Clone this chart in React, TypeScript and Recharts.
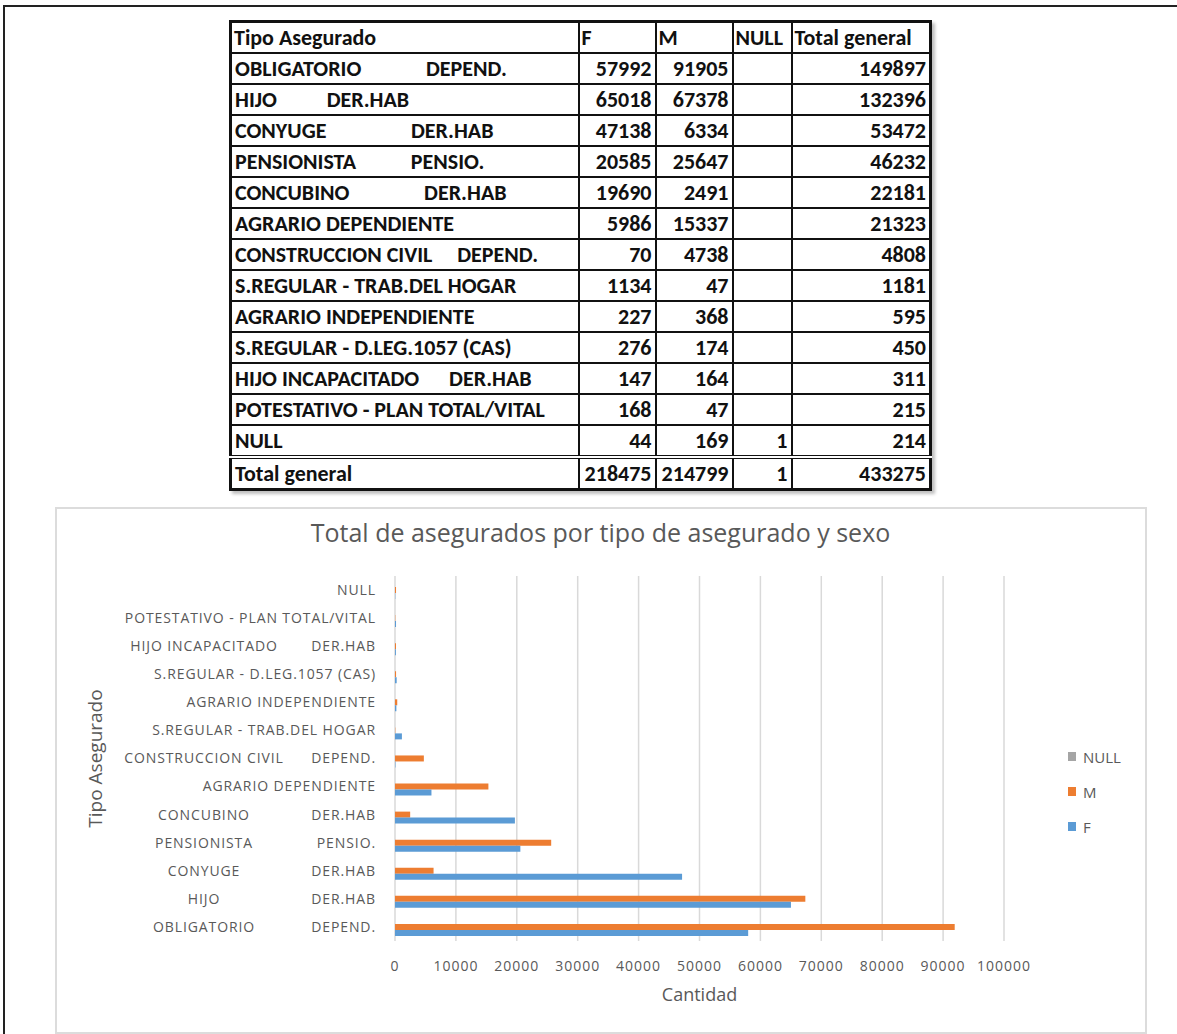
import React from "react";
import { BarChart, Bar, XAxis, YAxis, CartesianGrid } from "recharts";

// Tipo de asegurado, in table order (runs of spaces separate the two parts of a label)
const categories = [
  "OBLIGATORIO             DEPEND.",
  "HIJO          DER.HAB",
  "CONYUGE                 DER.HAB",
  "PENSIONISTA           PENSIO.",
  "CONCUBINO               DER.HAB",
  "AGRARIO DEPENDIENTE",
  "CONSTRUCCION CIVIL     DEPEND.",
  "S.REGULAR - TRAB.DEL HOGAR",
  "AGRARIO INDEPENDIENTE",
  "S.REGULAR - D.LEG.1057 (CAS)",
  "HIJO INCAPACITADO      DER.HAB",
  "POTESTATIVO - PLAN TOTAL/VITAL",
  "NULL",
];

const femenino = [57992, 65018, 47138, 20585, 19690, 5986, 70, 1134, 227, 276, 147, 168, 44];
const masculino = [91905, 67378, 6334, 25647, 2491, 15337, 4738, 47, 368, 174, 164, 47, 169];
const sinSexo: (number | null)[] = [null, null, null, null, null, null, null, null, null, null, null, null, 1];
const totales = [149897, 132396, 53472, 46232, 22181, 21323, 4808, 1181, 595, 450, 311, 215, 214];
const totalGeneral = [218475, 214799, 1, 433275];

const headers = ["Tipo Asegurado", "F", "M", "NULL", "Total general"];
const xTicks = [0, 10000, 20000, 30000, 40000, 50000, 60000, 70000, 80000, 90000, 100000];

// top-to-bottom order inside each band
const series = [
  { key: "nul", name: "NULL", color: "#A5A5A5" },
  { key: "m", name: "M", color: "#ED7D31" },
  { key: "f", name: "F", color: "#5B9BD5" },
];

// first category sits at the bottom of the chart
const chartData = categories
  .map((tipo, i) => ({ tipo, f: femenino[i], m: masculino[i], nul: sinSexo[i] }))
  .reverse();

const gray = "#595959";
const chartFont = "'Open Sans', sans-serif";
const tableFont = "Carlito, Lato, sans-serif";

const CategoryTick = (props: any) => {
  const { x, y, payload } = props;
  const [head, tail] = String(payload.value).split(/\s{2,}/);
  const style = { fontFamily: chartFont, fontSize: 14, letterSpacing: 0.9, fill: gray };
  if (!tail) {
    return (
      <text x={x} y={y} dy="0.35em" textAnchor="end" style={style}>
        {head}
      </text>
    );
  }
  return (
    <g>
      <text x={x - 172} y={y} dy="0.35em" textAnchor="middle" style={style}>
        {head}
      </text>
      <text x={x} y={y} dy="0.35em" textAnchor="end" style={style}>
        {tail}
      </text>
    </g>
  );
};

const YTitle = (props: any) => {
  const { x, y, height } = props.viewBox;
  const cx = x + 17;
  const cy = y + height / 2;
  return (
    <text
      x={cx}
      y={cy}
      dy="0.35em"
      textAnchor="middle"
      transform={`rotate(-90, ${cx}, ${cy})`}
      style={{ fontFamily: chartFont, fontSize: 19, fill: gray }}
    >
      Tipo Asegurado
    </text>
  );
};

const XTitle = (props: any) => {
  const { x, y, width } = props.viewBox;
  return (
    <text
      x={x + width / 2}
      y={y + 54}
      dy="0.35em"
      textAnchor="middle"
      style={{ fontFamily: chartFont, fontSize: 18, fill: gray }}
    >
      Cantidad
    </text>
  );
};

const cell = (extra: React.CSSProperties = {}): React.CSSProperties => ({
  border: "2px solid #111",
  padding: "0 3px",
  height: 29,
  whiteSpace: "pre",
  fontWeight: 700,
  ...extra,
});

const SummaryTable = () => (
  <table
    style={{
      position: "absolute",
      left: 229,
      top: 20,
      width: 700,
      borderCollapse: "collapse",
      border: "3px solid #111",
      fontFamily: tableFont,
      fontSize: 22,
      lineHeight: "26px",
      color: "#111",
      boxShadow: "3px 3px 3px rgba(0,0,0,0.25)",
      tableLayout: "fixed",
    }}
  >
    <colgroup>
      <col style={{ width: 348 }} />
      <col style={{ width: 77 }} />
      <col style={{ width: 77 }} />
      <col style={{ width: 59 }} />
      <col style={{ width: 139 }} />
    </colgroup>
    <tbody>
      <tr>
        {headers.map((h) => (
          <td key={h} style={cell({ textAlign: "left", padding: "0 2px" })}>
            {h}
          </td>
        ))}
      </tr>
      {categories.map((tipo, i) => (
        <tr key={tipo}>
          <td style={cell()}>{tipo}</td>
          <td style={cell({ textAlign: "right" })}>{femenino[i]}</td>
          <td style={cell({ textAlign: "right" })}>{masculino[i]}</td>
          <td style={cell({ textAlign: "right" })}>{sinSexo[i] ?? ""}</td>
          <td style={cell({ textAlign: "right" })}>{totales[i]}</td>
        </tr>
      ))}
      <tr>
        <td style={cell({ borderTop: "4px double #111" })}>Total general</td>
        {totalGeneral.map((v, i) => (
          <td key={i} style={cell({ textAlign: "right", borderTop: "4px double #111" })}>
            {v}
          </td>
        ))}
      </tr>
    </tbody>
  </table>
);

const Legend = () => (
  <div style={{ position: "absolute", left: 1068, top: 739, fontFamily: chartFont, fontSize: 15, color: gray }}>
    {series.map((s) => (
      <div key={s.key} style={{ display: "flex", alignItems: "center", height: 35 }}>
        <span style={{ display: "inline-block", width: 8, height: 9, background: s.color, marginRight: 7 }} />
        {s.name}
      </div>
    ))}
  </div>
);

export default function App() {
  return (
    <div
      style={{
        position: "absolute",
        left: 0,
        top: 0,
        width: 1177,
        height: 1034,
        overflow: "hidden",
        background: "#fff",
      }}
    >
      <div style={{ position: "absolute", left: 3, top: 5, width: 1174, height: 2, background: "#222" }} />
      <div style={{ position: "absolute", left: 3, top: 5, width: 2, height: 1029, background: "#222" }} />
      <SummaryTable />
      <div
        style={{
          position: "absolute",
          left: 55,
          top: 507,
          width: 1088,
          height: 523,
          border: "2px solid #dcdcdc",
        }}
      />
      <div
        style={{
          position: "absolute",
          left: 58,
          top: 515,
          width: 1085,
          textAlign: "center",
          fontFamily: chartFont,
          fontSize: 25,
          color: gray,
        }}
      >
        Total de asegurados por tipo de asegurado y sexo
      </div>
      <div style={{ position: "absolute", left: 58, top: 510 }}>
        <BarChart
          width={1085}
          height={520}
          data={chartData}
          layout="vertical"
          margin={{ top: 66, right: 139, bottom: 29, left: 20 }}
          barGap={0}
        >
          <CartesianGrid horizontal={false} stroke="#d9d9d9" strokeWidth={1.5} />
          <XAxis
            type="number"
            domain={[0, 100000]}
            ticks={xTicks}
            axisLine={false}
            tickLine={false}
            tickSize={0}
            tickMargin={20}
            height={60}
            interval={0}
            tick={{ fontFamily: chartFont, fontSize: 14, letterSpacing: 1, fill: gray }}
            label={<XTitle />}
          />
          <YAxis
            type="category"
            dataKey="tipo"
            width={317}
            axisLine={false}
            tickLine={false}
            tickSize={0}
            tickMargin={19}
            interval={0}
            tick={<CategoryTick />}
            label={<YTitle />}
          />
          {series.map((s) => (
            <Bar key={s.key} dataKey={s.key} name={s.name} fill={s.color} barSize={6} isAnimationActive={false} />
          ))}
        </BarChart>
      </div>
      <Legend />
    </div>
  );
}
